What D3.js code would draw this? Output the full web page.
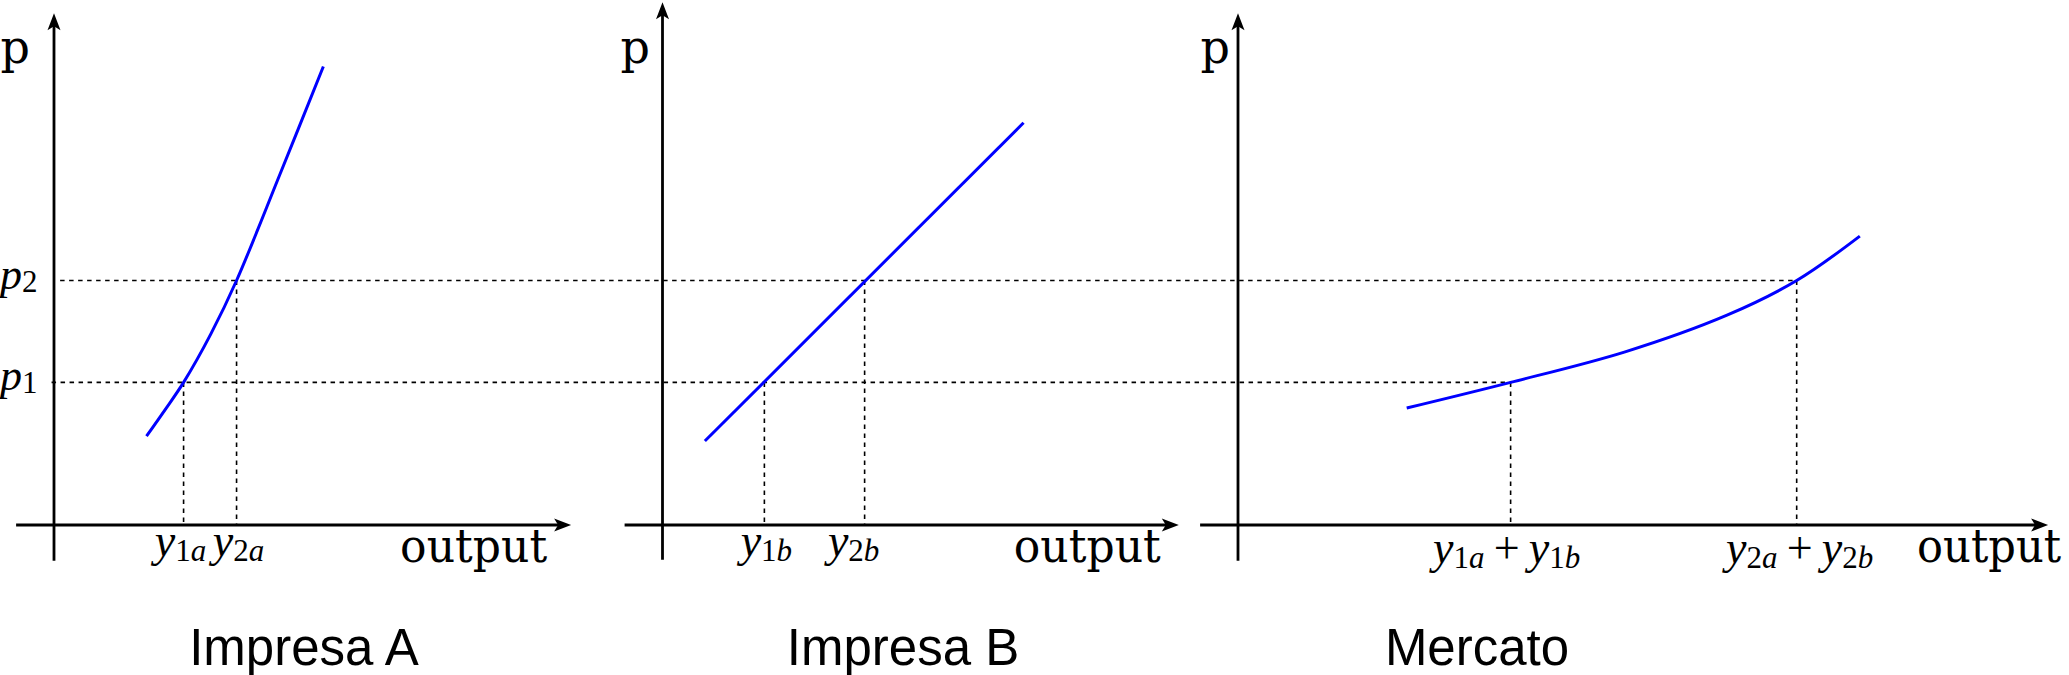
<!DOCTYPE html>
<html><head><meta charset="utf-8">
<script src="https://cdn.jsdelivr.net/npm/d3@7"></script>
<style>body{margin:0;background:#fff}svg{display:block}</style>
</head><body>
<svg id="chart" width="2069" height="675"></svg>
<script>
// ---------------- data ----------------
const panelTitles = ["Impresa A", "Impresa B", "Mercato"];
const priceLevels = [3.5, 6.0];          // p1, p2
const priceSubs = ["1", "2"];
// supply of firm A (output, price)
const supplyA_x = [2.27, 2.72, 3.18, 3.85, 4.48, 5.55, 6.61];
const supplyA_p = [2.18, 2.82, 3.50, 4.69, 6.00, 8.62, 11.25];
// supply of firm B
const supplyB_x = [1.04, 8.86];
const supplyB_p = [2.06, 9.87];
// market supply
const market_x = [4.14, 6.69, 9.5, 12.0, 13.71, 15.26];
const market_p = [2.87, 3.50, 4.25, 5.15, 6.00, 7.09];
// quantities supplied at p1, p2
const qtyA = [3.18, 4.48];
const qtyB = [2.50, 4.96];
const qtyM = [6.69, 13.71];
// tick labels (subscripts of y)
const ticksA = [["1a"], ["2a"]];
const ticksB = [["1b"], ["2b"]];
const ticksM = [["1a", "1b"], ["2a", "2b"]];
const axisXLabel = "output";
const axisYLabel = "p";

// ---------------- layout ----------------
const W = 2069, H = 675;
const ppu = 40.75, baseY = 525;
const yScale = d3.scaleLinear().domain([0, 1]).range([baseY, baseY - ppu]);
const panels = [
  {origin: 54,    xExt: [-0.93, 12.69], yExt: [-0.88, 12.56], pGap: 24, outOff: 171, outLen: 147, titleX: 304,
   curveX: supplyA_x, curveP: supplyA_p, qty: qtyA, ticks: ticksA, tickDx: [-3, 2], tickY: 556},
  {origin: 662.5, xExt: [-0.93, 12.67], yExt: [-0.85, 12.83], pGap: 12.5, outOff: 165, outLen: 147, titleX: 903,
   curveX: supplyB_x, curveP: supplyB_p, qty: qtyB, ticks: ticksB, tickDx: [2, -11], tickY: 556},
  {origin: 1238,  xExt: [-0.93, 19.88], yExt: [-0.88, 12.56], pGap: 8, outOff: 131, outLen: 144, titleX: 1477,
   curveX: market_x, curveP: market_p, qty: qtyM, ticks: ticksM, tickDx: [-4, 3], tickY: 563}
];
panels.forEach(p => p.x = d3.scaleLinear().domain([0, 1]).range([p.origin, p.origin + ppu]));

const svg = d3.select("#chart");
svg.append("rect").attr("width", W).attr("height", H).attr("fill", "#fff");

const serif = "'DejaVu Serif', serif";
const mathFont = "'Liberation Serif', 'Times New Roman', serif";
const sans = "'Liberation Sans', Arial, sans-serif";

// ---------- dashed guide lines ----------
const gDash = svg.append("g").attr("stroke", "#000").attr("stroke-width", 1.6)
  .attr("stroke-dasharray", "4.5 4.5").attr("fill", "none");
const A = panels[0], M = panels[2];
const hStart = [-0.06, 0.15];
priceLevels.forEach((pv, i) => {
  gDash.append("line")
    .attr("x1", A.x(hStart[i])).attr("x2", M.x(M.qty[i]))
    .attr("y1", yScale(pv)).attr("y2", yScale(pv));
});
panels.forEach(pn => {
  pn.qty.forEach((q, i) => {
    gDash.append("line")
      .attr("x1", pn.x(q)).attr("x2", pn.x(q))
      .attr("y1", yScale(priceLevels[i])).attr("y2", yScale(0));
  });
});

// ---------- axes ----------
const AL = 17, AW = 6.5, AN = 4;
panels.forEach(pn => {
  const g = svg.append("g");
  const xl = pn.x(pn.xExt[0]), xr = pn.x(pn.xExt[1]);
  const yb = yScale(pn.yExt[0]), yt = yScale(pn.yExt[1]);
  g.append("line").attr("x1", xl).attr("x2", xr - AL + AN + 1)
    .attr("y1", yScale(0)).attr("y2", yScale(0))
    .attr("stroke", "#000").attr("stroke-width", 2.8);
  g.append("path").attr("fill", "#000")
    .attr("d", `M${xr},${yScale(0)} L${xr - AL},${yScale(0) - AW} L${xr - AL + AN},${yScale(0)} L${xr - AL},${yScale(0) + AW} Z`);
  g.append("line").attr("x1", pn.origin).attr("x2", pn.origin)
    .attr("y1", yb).attr("y2", yt + AL - AN - 1)
    .attr("stroke", "#000").attr("stroke-width", 2.8);
  g.append("path").attr("fill", "#000")
    .attr("d", `M${pn.origin},${yt} L${pn.origin + AW},${yt + AL} L${pn.origin},${yt + AL - AN} L${pn.origin - AW},${yt + AL} Z`);

  // axis labels
  g.append("text").attr("x", pn.origin - pn.pGap).attr("y", 63)
    .attr("text-anchor", "end").attr("font-family", serif).attr("font-size", 46)
    .text(axisYLabel);
  g.append("text").attr("x", xr - pn.outOff).attr("y", 562)
    .attr("font-family", serif).attr("font-size", 46)
    .attr("textLength", pn.outLen).attr("lengthAdjust", "spacingAndGlyphs")
    .text(axisXLabel);
});

// ---------- curves ----------
panels.forEach(pn => {
  const pts = pn.curveX.map((v, i) => [v, pn.curveP[i]]);
  const line = d3.line().x(d => pn.x(d[0])).y(d => yScale(d[1]))
    .curve(pts.length > 2 ? d3.curveCatmullRom.alpha(0.5) : d3.curveLinear);
  svg.append("path").attr("d", line(pts)).attr("fill", "none")
    .attr("stroke", "#0000ff").attr("stroke-width", 3);
});

// ---------- tick labels ----------
function mathLabel(sel, subs) {
  subs.forEach((s, k) => {
    if (k > 0) sel.append("tspan").attr("dy", -5).attr("font-size", 46).attr("font-style", "normal").text("\u2009+\u2009");
    sel.append("tspan").attr("font-style", "italic").attr("font-size", 46).text("y");
    sel.append("tspan").attr("dy", 5).attr("font-size", 31).attr("font-style", "normal").text(s[0]);
    sel.append("tspan").attr("font-size", 31).attr("font-style", "italic").text(s.slice(1));
  });
}
panels.forEach(pn => {
  pn.qty.forEach((q, i) => {
    const t = svg.append("text").attr("x", pn.x(q) + pn.tickDx[i]).attr("y", pn.tickY)
      .attr("text-anchor", "middle").attr("font-family", mathFont);
    mathLabel(t, pn.ticks[i]);
  });
});

// price labels p1, p2
priceLevels.forEach((pv, i) => {
  const t = svg.append("text").attr("x", 0).attr("y", yScale(pv) + 8)
    .attr("font-family", mathFont);
  t.append("tspan").attr("font-style", "italic").attr("font-size", 44).text("p");
  t.append("tspan").attr("dy", 3).attr("font-size", 31).text(priceSubs[i]);
});

// ---------- titles ----------
panels.forEach((pn, i) => {
  svg.append("text").attr("x", pn.titleX).attr("y", 665).attr("text-anchor", "middle")
    .attr("font-family", sans).attr("font-size", 51).text(panelTitles[i]);
});
</script>
</body></html>
